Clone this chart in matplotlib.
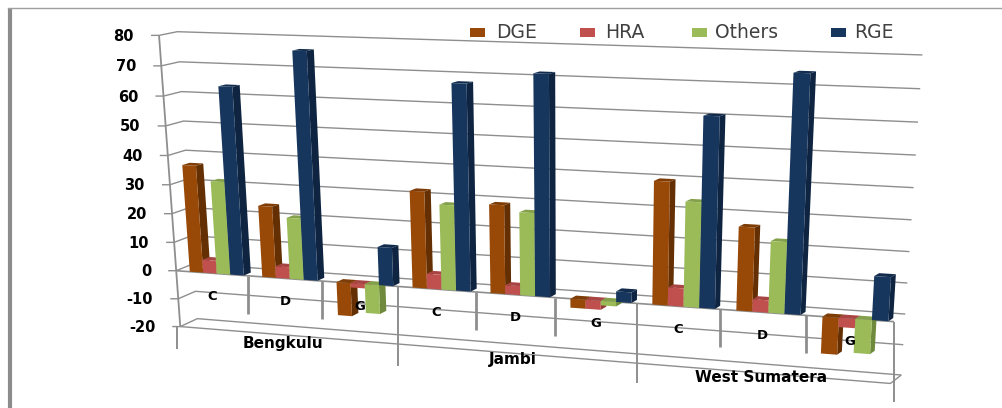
import numpy as np
import matplotlib
matplotlib.use("Agg")
import matplotlib.pyplot as plt

groups = ["Bengkulu", "Jambi", "West Sumatera"]
categories = ["C", "D", "G"] * 3
series_names = ["DGE", "HRA", "Others", "RGE"]
DGE = [37, 24.5, -11.5, 32.5, 29.5, -3, 40, 27, -12]
HRA = [4.5, 4, -1.5, 5, 3, -3, 6, 4, -3]
Others = [32, 21, -10, 28.5, 27.5, -1.5, 34, 23, -11]
RGE = [64, 76.5, 13, 68, 72, 3.5, 61, 75, 14]
series = [DGE, HRA, Others, RGE]
colors = ["#984807", "#C0504D", "#9BBB59", "#17365D"]
sides = ["#643003", "#963A38", "#6F8A3C", "#0E2441"]
tops = ["#7E3C06", "#A84543", "#83A04A", "#122C4E"]
yticks = list(range(-20, 90, 10))


def fit(src, dst):
    rows = []
    for (x, y), (u, v) in zip(src, dst):
        rows.append([x, y, 1, 0, 0, 0, -u * x, -u * y, -u])
        rows.append([0, 0, 0, x, y, 1, -v * x, -v * y, -v])
    return np.linalg.svd(np.array(rows, float))[2][-1].reshape(3, 3)


FRONT = fit([(0, 80), (9, 80), (0, -20), (9, -20), (0, 0), (1, 0), (3, 0), (6, 0), (9, 0)],
            [(159, 35), (909, 60), (180, 327), (890, 383), (177, 270), (248, 277), (398, 286), (636, 303), (895, 322)])
BACK = fit([(0, 80), (9, 80), (0, -20), (9, -20), (0, 0), (9, 0)],
           [(177, 32), (922, 55), (197, 320), (899, 375), (194, 262), (908, 314)])


def proj(x, v, d=0.0):
    def ap(H):
        p = H @ np.array([x, v, 1.0])
        return p[:2] / p[2]
    return (1 - d) * ap(FRONT) + d * ap(BACK)


fig = plt.figure(figsize=(10.03, 4.08), dpi=100)
ax = fig.add_axes([0, 0, 1, 1])
ax.set_xlim(0, 1003)
ax.set_ylim(408, 0)
ax.axis("off")
GRID = "#8e8e8e"


def line(pts, lw=1.0, c=GRID, z=1):
    pts = np.array(pts)
    ax.plot(pts[:, 0], pts[:, 1], color=c, lw=lw, zorder=z, solid_capstyle="butt")


# outer frame
ax.plot([10, 10], [8, 408], color="#8c8c8c", lw=3, zorder=0, solid_capstyle="butt")
ax.plot([8, 1003], [8, 8], color="#a0a0a0", lw=1, zorder=0)

# grid and value axis
for t in yticks:
    f = proj(0, t, 0)
    line([f - [8, 0], f, proj(0, t, 1), proj(9, t, 1)])
    ax.text(f[0] - 25, f[1] + 1, str(t), ha="right", va="center", fontsize=10.5,
            fontweight="bold", family="DejaVu Sans", color="black", zorder=6)
line([proj(0, 80, 0), proj(0, -20, 0)], lw=1.3)
line([proj(0, -20, 0), proj(9, -20, 0), proj(9, -20, 1)])

# category axis
line([proj(0, 0, 0), proj(9, 0, 0)], lw=1.2, z=2)
for k in range(10):
    p = proj(k, 0, 0)
    long = k % 3 == 0
    if k == 0:
        top = proj(0, -20, 0) - [3, 0]
        line([top, top + [0, 22]], lw=1.4, z=2)
    else:
        line([p, p + [0, 80 if long else 38]], lw=1.4 if long else 2.0, z=2)
for k, c in enumerate(categories):
    p = proj(k + 0.5, 0, 0)
    ax.text(p[0], p[1] + 23, c, ha="center", va="center", fontsize=9.5,
            fontweight="bold", family="DejaVu Sans", zorder=20)
for g, name in enumerate(groups):
    p = proj(3 * g + 1.5, 0, 0)
    ax.text(p[0] - 2, p[1] + 65, name, ha="center", va="center", fontsize=11,
            fontweight="bold", family="DejaVu Sans", zorder=20)

# bars
START, WIDTH, DEPTH = 0.19, 0.187, 0.42
for k in range(9):
    for s in range(4):
        v = series[s][k]
        x0 = k + START + s * WIDTH
        x1 = x0 + WIDTH
        z = 5 + k + s * 0.1
        end = v
        ax.fill(*zip(proj(x1, 0), proj(x1, 0, DEPTH), proj(x1, end, DEPTH), proj(x1, end)),
                color=sides[s], lw=0, zorder=z)
        ax.fill(*zip(proj(x0, max(v, 0)), proj(x1, max(v, 0)), proj(x1, max(v, 0), DEPTH), proj(x0, max(v, 0), DEPTH)),
                color=tops[s], lw=0, zorder=z + 0.01)
        ax.fill(*zip(proj(x0, 0), proj(x1, 0), proj(x1, end), proj(x0, end)),
                color=colors[s], lw=0, zorder=z + 0.02)

# legend
lx = [470, 580, 692, 831]
tx = [496, 605, 715, 854]
for i, name in enumerate(series_names):
    ax.fill([lx[i], lx[i] + 15, lx[i] + 15, lx[i]], [28, 28, 37, 37], color=colors[i], lw=0)
    ax.text(tx[i], 32, name, ha="left", va="center", fontsize=13.5,
            family="DejaVu Sans", color="#404040")

fig.savefig("out.png", dpi=100)
